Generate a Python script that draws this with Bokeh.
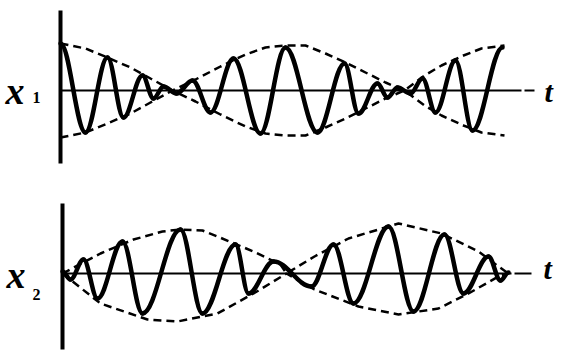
from bokeh.plotting import figure
from bokeh.layouts import column
from bokeh.models import Range1d, ColumnDataSource
from bokeh.core.properties import value
from bokeh.embed import file_html
from bokeh.resources import INLINE

# ---- panel 1: x1 (extrema of the oscillation) ----
x1_t = [0, 25, 47, 63, 82, 93, 103, 116, 132, 150, 173, 200, 225, 257, 284,
        298, 317, 327, 337, 350, 362, 375, 395, 412, 442]
x1_v = [47, -42, 33, -27, 15, -8, 4, -3, 10, -22, 32, -43, 43, -42, 27,
        -23, 7, -7, 3, -3, 12, -22, 30, -40, 43]
env1_t = [0, 25, 47, 70, 90, 112, 135, 160, 185, 205, 225, 245, 265, 285,
          305, 325, 344, 364, 381, 403, 421, 444]
env1_amp = [47, 42, 33, 23, 12, 0, 11, 24, 36, 43, 45, 45, 37, 28,
            18, 8, 0, 15, 25, 35, 42, 45]

# ---- panel 2: x2 ----
x2_t = [0, 8, 21, 35, 60, 80, 118, 140, 173, 186, 211, 249, 271, 291,
        326, 351, 382, 401, 426, 438, 446]
x2_v = [2, -6, 14, -25, 32, -40, 44, -40, 29, -20, 12, -13, 29, -30,
        47, -38, 39, -20, 17, -7, 1]
env2_up_t = [0, 38, 71, 100, 118, 140, 155, 191, 218, 224, 252, 286, 336,
             379, 416, 436, 446]
env2_up = [0, 20, 34, 42, 44, 43, 37, 22, 9, 0, 17, 35, 50, 40, 22, 7, 0]
env2_lo_t = [0, 38, 85, 115, 155, 191, 224, 252, 296, 336, 376, 406, 436, 446]
env2_lo = [0, -30, -46, -48, -40, -20, 0, -16, -33, -41, -35, -20, -3, 0]

labels = [("x", "1"), ("x", "2")]
axis_label = "t"

K = 0.364  # cubic-bezier handle fraction for a smooth half-wave


def bezier_source(ts, vs):
    x0, y0, x1, y1 = ts[:-1], vs[:-1], ts[1:], vs[1:]
    d = [b - a for a, b in zip(x0, x1)]
    cx0 = [a + K * dd for a, dd in zip(x0, d)]
    cx1 = [b - K * dd for b, dd in zip(x1, d)]
    return ColumnDataSource(dict(x0=x0, y0=y0, x1=x1, y1=y1,
                                 cx0=cx0, cy0=y0, cx1=cx1, cy1=y1))


FONT = value("Liberation Serif")


def make_panel(xr, yr, height, ts, vs, env_up_t, env_up, env_lo_t, env_lo,
               vaxis, haxis_end, dash, lab, sub, tpos, lpos, spos):
    p = figure(width=562, height=height, x_range=Range1d(*xr), y_range=Range1d(*yr),
               output_backend="svg", toolbar_location=None,
               x_axis_type=None, y_axis_type=None, min_border=0,
               outline_line_color=None, background_fill_color="white",
               border_fill_color="white")
    # axes
    p.segment(x0=[0], y0=[vaxis[0]], x1=[0], y1=[vaxis[1]],
              line_width=4, line_color="black")
    p.segment(x0=[0, dash[0]], y0=[0, 0], x1=[haxis_end, dash[1]], y1=[0, 0],
              line_width=2, line_color="black")
    # envelopes
    p.line(env_up_t, env_up, line_width=2.5, line_color="black",
           line_dash="8 5")
    p.line(env_lo_t, env_lo, line_width=2.5, line_color="black",
           line_dash="8 5")
    # oscillation
    p.bezier(x0="x0", y0="y0", x1="x1", y1="y1", cx0="cx0", cy0="cy0",
             cx1="cx1", cy1="cy1", source=bezier_source(ts, vs),
             line_width=4.5, line_color="black", line_cap="round")
    # texts
    p.text(x=[tpos[0]], y=[tpos[1]], text=[axis_label], text_font=FONT,
           text_font_style="bold italic", text_font_size="30px",
           text_baseline="alphabetic", text_align="left", text_color="black")
    p.text(x=[lpos[0]], y=[lpos[1]], text=[lab], text_font=FONT,
           text_font_style="bold italic", text_font_size="38px",
           text_baseline="alphabetic", text_align="left", text_color="black")
    p.text(x=[spos[0]], y=[spos[1]], text=[sub], text_font=FONT,
           text_font_style="bold", text_font_size="16px",
           text_baseline="alphabetic", text_align="left", text_color="black")
    return p


env1_lo = [-a for a in env1_amp]
p1 = make_panel((-60, 502), (-86, 90), 176, x1_t, x1_v,
                env1_t, env1_amp, env1_t, env1_lo,
                (80, -73), 461, (464, 474), labels[0][0], labels[0][1],
                (484, -1), (-55, 0), (-28, -7))
p2 = make_panel((-62, 500), (-79, 97), 176, x2_t, x2_v,
                env2_up_t, env2_up, env2_lo_t, env2_lo,
                (70, -76), 449, (452, 469), labels[1][0], labels[1][1],
                (481, 5), (-56, -1), (-30, -21))

layout = column(p1, p2, spacing=0)
open("out.html", "w").write(file_html(layout, INLINE))
